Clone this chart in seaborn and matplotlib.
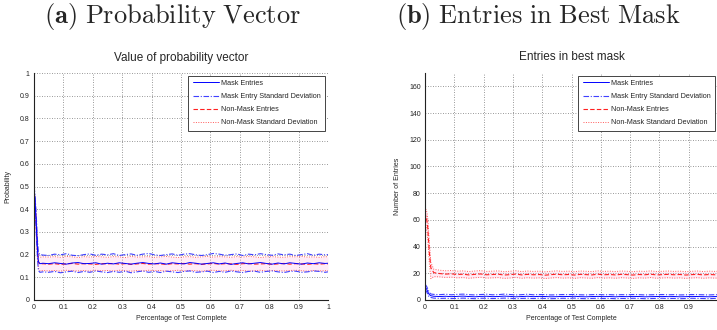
import matplotlib
matplotlib.use("Agg")
import matplotlib.pyplot as plt
import seaborn as sns
import pandas as pd

# ---------------- data ----------------
x_vals = [0, 0.003, 0.006, 0.009, 0.012, 0.015, 0.02, 0.03,
          0.05, 0.07, 0.09, 0.11, 0.13, 0.15, 0.17, 0.19, 0.21, 0.23,
          0.25, 0.27, 0.29, 0.31, 0.33, 0.35, 0.37, 0.39, 0.41, 0.43,
          0.45, 0.47, 0.49, 0.51, 0.53, 0.55, 0.57, 0.59, 0.61, 0.63,
          0.65, 0.67, 0.69, 0.71, 0.73, 0.75, 0.77, 0.79, 0.81, 0.83,
          0.85, 0.87, 0.89, 0.91, 0.93, 0.95, 0.97, 0.99, 1.0]

# (a) probability vector
prob_mask = [0.49, 0.45, 0.38, 0.30, 0.22, 0.17, 0.160, 0.162,
             0.160, 0.164, 0.161, 0.158, 0.163, 0.165, 0.160, 0.161, 0.164, 0.158,
             0.162, 0.159, 0.164, 0.161, 0.158, 0.162, 0.165, 0.161, 0.159, 0.163,
             0.158, 0.164, 0.161, 0.159, 0.165, 0.162, 0.158, 0.161, 0.164, 0.159,
             0.163, 0.157, 0.161, 0.164, 0.159, 0.162, 0.165, 0.161, 0.158, 0.163,
             0.159, 0.164, 0.161, 0.158, 0.163, 0.160, 0.164, 0.161, 0.162]
prob_mask_hi = [0.50, 0.47, 0.41, 0.34, 0.26, 0.21, 0.200, 0.198,
                0.196, 0.202, 0.199, 0.204, 0.197, 0.195, 0.200, 0.203, 0.197, 0.202,
                0.199, 0.204, 0.196, 0.200, 0.203, 0.197, 0.202, 0.205, 0.199, 0.196,
                0.200, 0.203, 0.197, 0.202, 0.204, 0.199, 0.196, 0.200, 0.205, 0.202,
                0.197, 0.200, 0.203, 0.196, 0.202, 0.199, 0.204, 0.200, 0.197, 0.203,
                0.199, 0.202, 0.196, 0.200, 0.204, 0.197, 0.202, 0.199, 0.200]
prob_mask_lo = [0.48, 0.43, 0.35, 0.26, 0.18, 0.13, 0.122, 0.124,
                0.122, 0.126, 0.120, 0.124, 0.127, 0.121, 0.126, 0.122, 0.128, 0.124,
                0.121, 0.126, 0.122, 0.127, 0.120, 0.124, 0.128, 0.122, 0.126, 0.121,
                0.127, 0.124, 0.121, 0.126, 0.128, 0.122, 0.124, 0.127, 0.121, 0.126,
                0.122, 0.128, 0.124, 0.121, 0.126, 0.127, 0.122, 0.126, 0.128, 0.124,
                0.121, 0.126, 0.127, 0.122, 0.124, 0.128, 0.126, 0.122, 0.124]
prob_non = [0.47, 0.44, 0.37, 0.29, 0.21, 0.165, 0.158, 0.160,
            0.158, 0.160, 0.157, 0.159, 0.161, 0.158, 0.160, 0.159, 0.157, 0.160,
            0.159, 0.161, 0.158, 0.160, 0.157, 0.159, 0.161, 0.158, 0.160, 0.159,
            0.157, 0.160, 0.159, 0.161, 0.158, 0.160, 0.157, 0.159, 0.161, 0.158,
            0.160, 0.159, 0.157, 0.160, 0.161, 0.158, 0.159, 0.160, 0.157, 0.159,
            0.161, 0.158, 0.160, 0.159, 0.157, 0.160, 0.158, 0.160, 0.159]
prob_non_hi = [0.48, 0.46, 0.40, 0.32, 0.24, 0.19, 0.188, 0.190,
               0.189, 0.191, 0.188, 0.192, 0.190, 0.187, 0.191, 0.189, 0.192, 0.190,
               0.188, 0.191, 0.190, 0.187, 0.192, 0.189, 0.190, 0.191, 0.188, 0.190,
               0.192, 0.189, 0.187, 0.190, 0.191, 0.188, 0.190, 0.192, 0.189, 0.191,
               0.190, 0.188, 0.191, 0.189, 0.192, 0.190, 0.187, 0.190, 0.191, 0.189,
               0.188, 0.191, 0.190, 0.192, 0.189, 0.190, 0.188, 0.191, 0.190]
prob_non_lo = [0.46, 0.42, 0.34, 0.26, 0.18, 0.14, 0.128, 0.130,
               0.128, 0.130, 0.127, 0.131, 0.129, 0.128, 0.130, 0.127, 0.131, 0.129,
               0.130, 0.128, 0.131, 0.129, 0.127, 0.130, 0.128, 0.131, 0.129, 0.130,
               0.127, 0.129, 0.131, 0.128, 0.130, 0.129, 0.127, 0.130, 0.131, 0.128,
               0.129, 0.131, 0.128, 0.130, 0.127, 0.129, 0.131, 0.128, 0.130, 0.129,
               0.128, 0.130, 0.131, 0.129, 0.127, 0.130, 0.128, 0.129, 0.129]

# (b) entries in best mask
cnt_mask = [10, 9, 8, 6.5, 5, 4, 3.2, 2.8,
            2.6, 2.8, 2.5, 2.7, 2.9, 2.6, 2.4, 2.7, 2.8, 2.5,
            2.6, 2.9, 2.7, 2.4, 2.6, 2.8, 2.5, 2.7, 2.6, 2.4,
            2.5, 2.7, 2.6, 2.8, 2.5, 2.4, 2.6, 2.7, 2.5, 2.6,
            2.4, 2.6, 2.5, 2.7, 2.6, 2.4, 2.5, 2.6, 2.7, 2.5,
            2.6, 2.4, 2.5, 2.7, 2.6, 2.5, 2.4, 2.6, 2.5]
cnt_mask_hi = [12, 11, 10, 8.5, 7, 5.5, 4.5, 4.2,
               4.0, 4.3, 3.9, 4.2, 4.4, 4.0, 3.8, 4.1, 4.3, 3.9,
               4.0, 4.4, 4.1, 3.8, 4.0, 4.3, 3.9, 4.1, 4.0, 3.8,
               3.9, 4.1, 4.0, 4.2, 3.9, 3.8, 4.0, 4.1, 3.9, 4.0,
               3.8, 4.0, 3.9, 4.1, 4.0, 3.8, 3.9, 4.0, 4.1, 3.9,
               4.0, 3.8, 3.9, 4.1, 4.0, 3.9, 3.8, 4.0, 3.9]
cnt_mask_lo = [8, 7, 6, 4.5, 3, 2.5, 1.9, 1.4,
               1.2, 1.3, 1.1, 1.2, 1.4, 1.2, 1.0, 1.3, 1.3, 1.1,
               1.2, 1.4, 1.3, 1.0, 1.2, 1.3, 1.1, 1.3, 1.2, 1.0,
               1.1, 1.3, 1.2, 1.4, 1.1, 1.0, 1.2, 1.3, 1.1, 1.2,
               1.0, 1.2, 1.1, 1.3, 1.2, 1.0, 1.1, 1.2, 1.3, 1.1,
               1.2, 1.0, 1.1, 1.3, 1.2, 1.1, 1.0, 1.2, 1.1]
cnt_non = [60, 63, 60, 55, 45, 35, 24, 20.5,
           19.8, 19.4, 19.6, 19.1, 19.3, 18.8, 19.2, 19.5, 18.9, 19.1,
           19.3, 18.7, 19.0, 19.4, 18.8, 19.2, 18.9, 19.1, 18.6, 19.0,
           19.3, 18.9, 19.1, 18.7, 19.2, 19.0, 18.8, 19.3, 18.9, 19.1,
           18.8, 19.2, 19.0, 18.7, 19.1, 18.9, 19.3, 18.8, 19.0, 19.2,
           18.9, 19.1, 18.7, 19.0, 19.2, 18.8, 19.1, 18.9, 19.0]
cnt_non_hi = [66, 68, 66, 62, 53, 42, 28, 23,
              22.3, 21.9, 22.1, 21.6, 21.8, 21.3, 21.7, 22.0, 21.4, 21.6,
              21.8, 21.2, 21.5, 21.9, 21.3, 21.7, 21.4, 21.6, 21.1, 21.5,
              21.8, 21.4, 21.6, 21.2, 21.7, 21.5, 21.3, 21.8, 21.4, 21.6,
              21.3, 21.7, 21.5, 21.2, 21.6, 21.4, 21.8, 21.3, 21.5, 21.7,
              21.4, 21.6, 21.2, 21.5, 21.7, 21.3, 21.6, 21.4, 21.5]
cnt_non_lo = [54, 56, 52, 46, 37, 27, 16, 17.5,
              17.3, 16.9, 17.1, 16.6, 16.8, 16.3, 16.7, 17.0, 16.4, 16.6,
              16.8, 16.2, 16.5, 16.9, 16.3, 16.7, 16.4, 16.6, 16.1, 16.5,
              16.8, 16.4, 16.6, 16.2, 16.7, 16.5, 16.3, 16.8, 16.4, 16.6,
              16.3, 16.7, 16.5, 16.2, 16.6, 16.4, 16.8, 16.3, 16.5, 16.7,
              16.4, 16.6, 16.2, 16.5, 16.7, 16.3, 16.6, 16.4, 16.5]

legend_labels = ["Mask Entries", "Mask Entry Standard Deviation",
                 "Non-Mask Entries", "Non-Mask Standard Deviation"]
xticks = [0, 0.1, 0.2, 0.3, 0.4, 0.5, 0.6, 0.7, 0.8, 0.9, 1]
xtick_labels_a = ["0", "0.1", "0.2", "0.3", "0.4", "0.5", "0.6", "0.7", "0.8", "0.9", "1"]
xtick_labels_b = ["0", "0.1", "0.2", "0.3", "0.4", "0.5", "0.6", "0.7", "0.8", "0.9", ""]
yticks_a = [0, 0.1, 0.2, 0.3, 0.4, 0.5, 0.6, 0.7, 0.8, 0.9, 1]
ytick_labels_a = ["0", "0.1", "0.2", "0.3", "0.4", "0.5", "0.6", "0.7", "0.8", "0.9", "1"]
yticks_b = [0, 20, 40, 60, 80, 100, 120, 140, 160]

# ---------------- style ----------------
sns.set_style("white")
plt.rcParams["font.family"] = ["Liberation Sans", "DejaVu Sans"]
plt.rcParams["mathtext.fontset"] = "cm"

fig = plt.figure(figsize=(7.17, 3.30), dpi=100)
ax_a = fig.add_axes([34 / 717, 1 - 300 / 330, (328 - 34) / 717, (300 - 73) / 330])
ax_b = fig.add_axes([425 / 717, 1 - 300 / 330, (718 - 425) / 717, (300 - 73) / 330])

C_MASK = "#0000ff"
C_MASK_SD = "#4040ff"
C_NON = "#ff2020"
C_NON_SD = "#ff5a5a"


def draw(ax, m, mhi, mlo, n, nhi, nlo):
    df = pd.DataFrame({"x": x_vals, "m": m, "mhi": mhi, "mlo": mlo,
                       "n": n, "nhi": nhi, "nlo": nlo})
    ax.fill_between(df["x"], df["nlo"], df["nhi"], color="#ff9ad0",
                    alpha=0.18, lw=0)
    sns.lineplot(data=df, x="x", y="nhi", ax=ax, color=C_NON_SD, lw=0.7,
                 linestyle=(0, (1, 1.5)), label=legend_labels[3])
    sns.lineplot(data=df, x="x", y="nlo", ax=ax, color=C_NON_SD, lw=0.7,
                 linestyle=(0, (1, 1.5)), label="_nolegend_")
    sns.lineplot(data=df, x="x", y="n", ax=ax, color=C_NON, lw=0.8,
                 linestyle=(0, (4, 2)), label=legend_labels[2])
    sns.lineplot(data=df, x="x", y="mhi", ax=ax, color=C_MASK_SD, lw=0.8,
                 linestyle=(0, (5, 1.5, 1, 1.5)), label=legend_labels[1])
    sns.lineplot(data=df, x="x", y="mlo", ax=ax, color=C_MASK_SD, lw=0.8,
                 linestyle=(0, (5, 1.5, 1, 1.5)), label="_nolegend_")
    sns.lineplot(data=df, x="x", y="m", ax=ax, color=C_MASK, lw=0.7,
                 linestyle="-", label=legend_labels[0])
    h, l = ax.get_legend_handles_labels()
    order = [l.index(s) for s in legend_labels]
    leg = ax.legend([h[i] for i in order], [l[i] for i in order],
                    loc="upper right", fontsize=5.2, frameon=True, fancybox=False,
                    framealpha=1, edgecolor="#444444", handlelength=3.6,
                    labelspacing=0.85, borderpad=0.6, borderaxespad=0.35,
                    handletextpad=0.4)
    leg.get_frame().set_linewidth(0.7)
    for s in ["top", "right"]:
        ax.spines[s].set_visible(False)
    for s in ["left", "bottom"]:
        ax.spines[s].set_color("#222222")
        ax.spines[s].set_linewidth(0.8)
    ax.grid(True, linestyle=(0, (1, 2)), color="#777777", lw=0.6)
    ax.tick_params(direction="in", length=2.5, width=0.6, labelsize=5,
                   colors="#222222", pad=3)
    ax.set_xlabel("Percentage of Test Complete", fontsize=5, labelpad=3)


draw(ax_a, prob_mask, prob_mask_hi, prob_mask_lo, prob_non, prob_non_hi, prob_non_lo)
ax_a.set_xlim(0, 1)
ax_a.set_ylim(0, 1)
ax_a.set_xticks(xticks, xtick_labels_a)
ax_a.set_yticks(yticks_a, ytick_labels_a)
ax_a.set_ylabel("Probability", fontsize=5, labelpad=6)
ax_a.set_title("Value of probability vector", fontsize=8.5, pad=9)

draw(ax_b, cnt_mask, cnt_mask_hi, cnt_mask_lo, cnt_non, cnt_non_hi, cnt_non_lo)
ax_b.set_xlim(0, 1)
ax_b.set_ylim(0, 170)
ax_b.set_xticks(xticks, xtick_labels_b)
ax_b.set_yticks(yticks_b, [str(v) for v in yticks_b])
ax_b.set_ylabel("Number of Entries", fontsize=5, labelpad=6)
ax_b.set_title("Entries in best mask", fontsize=8.5, pad=9)

fig.text(172 / 717, 1 - 16 / 330, r"$\mathbf{(a)}\ \mathrm{Probability\ Vector}$",
         ha="center", va="center", fontsize=19)
fig.text(538 / 717, 1 - 16 / 330, r"$\mathbf{(b)}\ \mathrm{Entries\ in\ Best\ Mask}$",
         ha="center", va="center", fontsize=19)

fig.savefig("out.png", dpi=100)
